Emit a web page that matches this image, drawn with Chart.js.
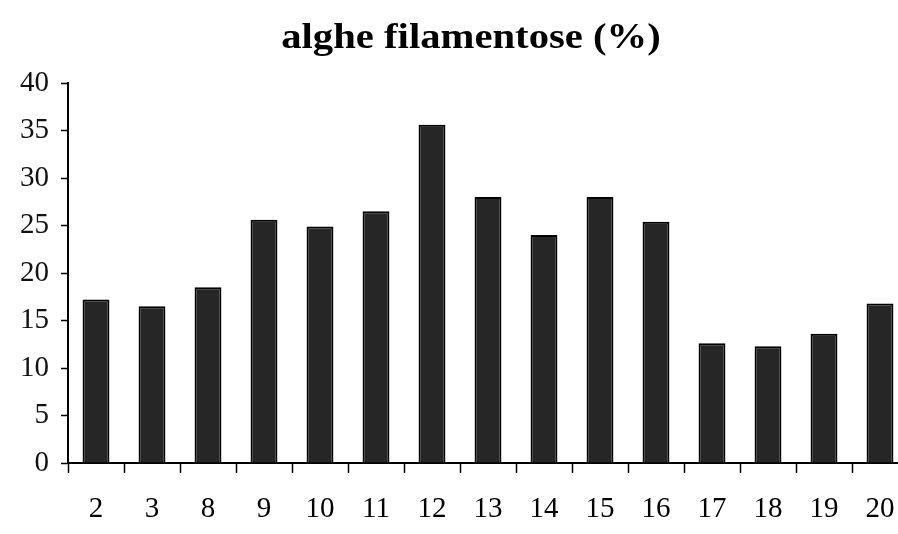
<!DOCTYPE html>
<html>
<head>
<meta charset="utf-8">
<script src="https://cdn.jsdelivr.net/npm/chart.js@4/dist/chart.umd.min.js"></script>
<style>
  html, body { margin: 0; padding: 0; background: #fff; overflow: hidden; }
  #wrap { position: relative; width: 930px; height: 534px; }
</style>
</head>
<body>
<div id="wrap"><canvas id="c"></canvas></div>
<script>
// Stations and share of filamentous algae (%)
const stations = ['2', '3', '8', '9', '10', '11', '12', '13', '14', '15', '16', '17', '18', '19', '20'];
const algaePct = [17.2, 16.5, 18.5, 25.6, 24.9, 26.5, 35.6, 28.0, 24.0, 28.0, 25.4, 12.6, 12.3, 13.6, 16.8];
const yTicks = [0, 5, 10, 15, 20, 25, 30, 35, 40];
const chartTitle = 'alghe filamentose (%)';

const serif = "'Liberation Serif', 'Times New Roman', serif";

// Wide bold title drawn above the plot
const wideTitle = {
  id: 'wideTitle',
  afterDraw(chart) {
    const ctx = chart.ctx;
    ctx.save();
    ctx.font = 'bold 36px ' + serif;
    ctx.fillStyle = '#000';
    ctx.textAlign = 'center';
    ctx.textBaseline = 'alphabetic';
    ctx.translate(471, 48);
    ctx.scale(1.13, 1);
    ctx.fillText(chartTitle, 0, 0);
    ctx.restore();
  }
};

new Chart(document.getElementById('c'), {
  type: 'bar',
  data: {
    labels: stations,
    datasets: [{
      data: algaePct,
      backgroundColor: '#262626',
      borderColor: '#000',
      borderWidth: 2,
      barPercentage: 0.48,
      categoryPercentage: 1
    }]
  },
  plugins: [wideTitle],
  options: {
    responsive: true,
    maintainAspectRatio: false,
    animation: false,
    devicePixelRatio: 1,
    layout: { padding: { left: 0, right: 22, top: 83, bottom: 0 } },
    plugins: {
      legend: { display: false },
      tooltip: { enabled: false },
      title: { display: false }
    },
    scales: {
      x: {
        grid: {
          display: true,
          offset: true,
          drawOnChartArea: false,
          drawTicks: true,
          tickLength: 10,
          tickColor: '#000',
          tickWidth: 1.5
        },
        border: { display: true, color: '#000', width: 2 },
        ticks: {
          color: '#000',
          padding: 19,
          maxRotation: 0,
          autoSkip: false,
          font: { family: serif, size: 29 }
        },
        afterFit: s => { s.height = 71; }
      },
      y: {
        min: 0,
        max: 40,
        afterBuildTicks: s => { s.ticks = yTicks.map(v => ({ value: v })); },
        grid: {
          display: true,
          drawOnChartArea: false,
          drawTicks: true,
          tickLength: 7,
          tickColor: '#000',
          tickWidth: 1.5
        },
        border: { display: true, color: '#000', width: 2 },
        ticks: {
          color: '#111',
          padding: 12,
          font: { family: serif, size: 29 }
        },
        afterFit: s => { s.width = 68; }
      }
    }
  }
});
</script>
</body>
</html>
